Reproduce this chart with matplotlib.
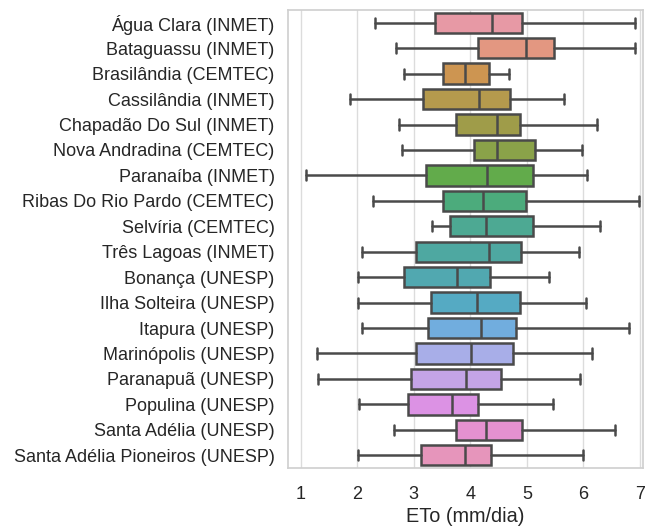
import matplotlib
matplotlib.use("Agg")
import matplotlib.pyplot as plt
import seaborn as sns

stations = ["Água Clara (INMET)", "Bataguassu (INMET)", "Brasilândia (CEMTEC)",
            "Cassilândia (INMET)", "Chapadão Do Sul (INMET)", "Nova Andradina (CEMTEC)",
            "Paranaíba (INMET)", "Ribas Do Rio Pardo (CEMTEC)", "Selvíria (CEMTEC)",
            "Três Lagoas (INMET)", "Bonança (UNESP)", "Ilha Solteira (UNESP)",
            "Itapura (UNESP)", "Marinópolis (UNESP)", "Paranapuã (UNESP)",
            "Populina (UNESP)", "Santa Adélia (UNESP)", "Santa Adélia Pioneiros (UNESP)"]

whis_lo = [2.32, 2.69, 2.82, 1.87, 2.73, 2.79, 1.10, 2.27, 3.32, 2.08, 2.02, 2.02, 2.09, 1.28, 1.31, 2.03, 2.65, 2.02]
q1      = [3.38, 4.14, 3.52, 3.17, 3.74, 4.07, 3.22, 3.52, 3.64, 3.04, 2.82, 3.31, 3.25, 3.04, 2.95, 2.90, 3.75, 3.13]
median  = [4.38, 4.99, 3.90, 4.16, 4.48, 4.48, 4.30, 4.22, 4.28, 4.33, 3.77, 4.11, 4.19, 4.01, 3.93, 3.67, 4.27, 3.90]
q3      = [4.91, 5.48, 4.33, 4.70, 4.87, 5.15, 5.10, 4.98, 5.10, 4.89, 4.35, 4.87, 4.81, 4.75, 4.54, 4.14, 4.92, 4.37]
whis_hi = [6.91, 6.92, 4.68, 5.66, 6.24, 5.98, 6.06, 6.99, 6.29, 5.92, 5.39, 6.04, 6.80, 6.16, 5.94, 5.46, 6.55, 5.99]

sns.set_theme(style="whitegrid")
plt.rcParams['font.family'] = ['Liberation Sans', 'DejaVu Sans']

fig = plt.figure(figsize=(6.48, 5.27), dpi=100)
ax = fig.add_axes([0.444, 0.112, 0.548, 0.869])

palette = [sns.desaturate(c, 0.7) for c in sns.husl_palette(len(stations), l=0.7, s=0.9)]
stats = []
for i, name in enumerate(stations):
    stats.append(dict(label=name, med=median[i], q1=q1[i], q3=q3[i],
                      whislo=whis_lo[i], whishi=whis_hi[i], fliers=[]))

lc = "#4a4a4a"
lw = 1.8
positions = list(range(len(stations)))
bp = ax.bxp(stats, positions=positions, vert=False, widths=0.8, patch_artist=True,
            showfliers=False,
            boxprops=dict(edgecolor=lc, linewidth=lw),
            medianprops=dict(color=lc, linewidth=lw),
            whiskerprops=dict(color=lc, linewidth=lw),
            capprops=dict(color=lc, linewidth=lw))
for patch, c in zip(bp["boxes"], palette):
    patch.set_facecolor(c)

ax.set_ylim(len(stations) - 0.5, -0.5)
ax.set_xlim(0.77, 7.05)
ax.set_xticks([1, 2, 3, 4, 5, 6, 7])
ax.set_yticks(positions)
ax.set_yticklabels(stations)
ax.yaxis.grid(False)
ax.xaxis.grid(True, color="#dcdcdc")
ax.tick_params(axis="both", labelsize=13, colors="#262626")
ax.tick_params(axis="x", pad=7)
ax.set_xlabel("ETo (mm/dia)", fontsize=14.3, color="#262626", labelpad=3)
for s in ax.spines.values():
    s.set_color("#d0d0d0")

fig.savefig("out.png", dpi=100)
